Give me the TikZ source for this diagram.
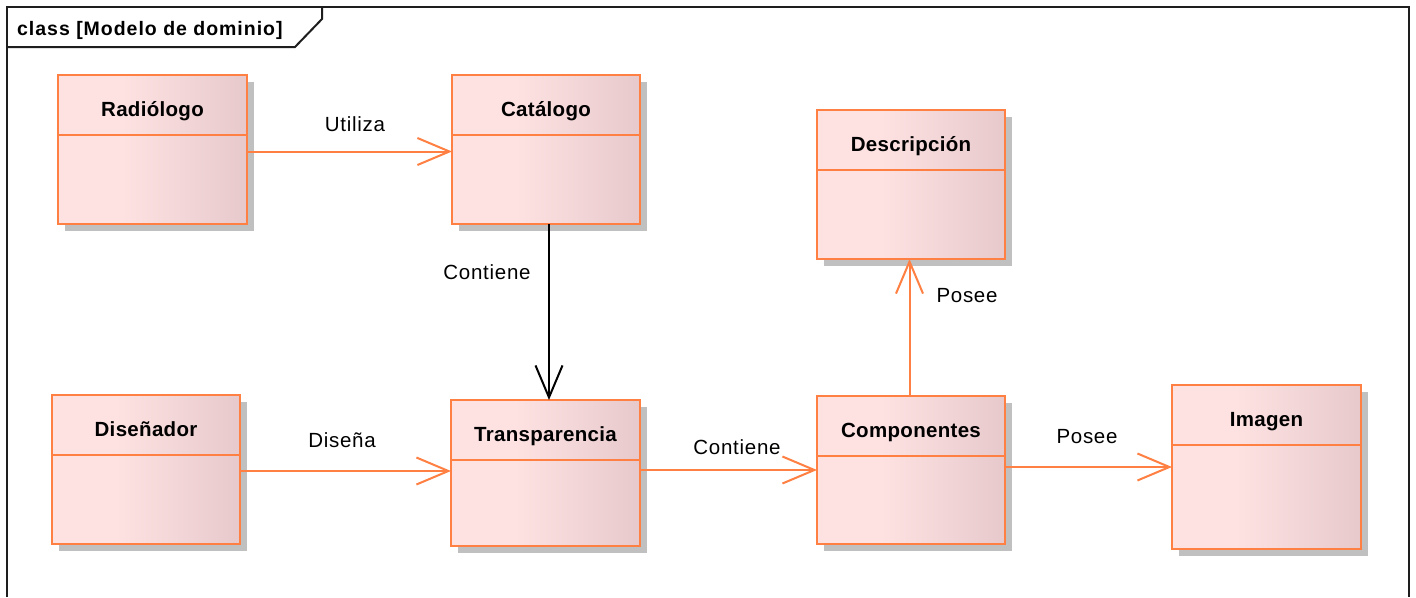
\documentclass[tikz,border=0pt]{standalone}
\usepackage{fontspec}
\setmainfont{Liberation Sans}
\usetikzlibrary{arrows.meta,shadows,calc}

\definecolor{umlorange}{RGB}{255,128,66}
\definecolor{umlpinkL}{RGB}{254,226,226}
\definecolor{umlpinkR}{RGB}{231,201,203}
\definecolor{umlshadow}{RGB}{192,192,192}
\definecolor{framegray}{RGB}{30,30,30}

% class body: flat pink on the left, darker towards the right edge
\pgfdeclarehorizontalshading{classfill}{100bp}{color(0bp)=(umlpinkL); color(42bp)=(umlpinkL); color(75bp)=(umlpinkR); color(100bp)=(umlpinkR)}

\tikzset{
  classbox/.style={anchor=north west, draw=umlorange, line width=2pt,
    shading=classfill, shade, inner sep=0pt, outer sep=0pt,
    general shadow={fill=umlshadow, shadow xshift=7pt, shadow yshift=-7pt}},
  classline/.style={draw=umlorange, line width=2pt},
  classtitle/.style={anchor=base, inner sep=0pt,
    font=\bfseries\fontsize{20.5}{24}\selectfont\addfontfeatures{LetterSpace=1.5}},
  lbl/.style={anchor=base, inner sep=0pt,
    font=\fontsize{20.5}{24}\selectfont\addfontfeatures{LetterSpace=3.5}},
  assoc/.style={draw=umlorange, line width=2pt, -{Straight Barb[length=32pt,width=27pt]}},
  assocdark/.style={draw=black, line width=2pt, -{Straight Barb[length=32pt,width=27pt]}},
  frameline/.style={draw=framegray, line width=2pt},
}

% \umlclass{name}{x}{y}{width}{height}{title}
\newcommand\umlclass[6]{%
  \node[classbox, minimum width=#4pt, minimum height=#5pt] (#1) at (#2,#3) {};
  \draw[classline] ([yshift=-60pt]#1.north west) -- ([yshift=-60pt]#1.north east);
  \node[classtitle] (#1-title) at ([yshift=-41.5pt]#1.north) {#6};
}

\begin{document}
\begin{tikzpicture}[x=1pt, y=-1pt]
  \useasboundingbox (0,0) rectangle (1416,597);
  \fill[white] (0,0) rectangle (1416,597);

  % diagram frame with its name tab
  \draw[frameline] (7,597) -- (7,7) -- (1409,7) -- (1409,597);
  \draw[frameline] (322,7) -- (322,19) -- (295,47) -- (7,47);
  \node[anchor=base west, inner sep=0pt,
    font=\bfseries\fontsize{19.5}{23}\selectfont\addfontfeatures{LetterSpace=5}]
    (frametitle) at (17,35) {class [Modelo de dominio]};

  % classes
  \umlclass{rad}{58}{75}{189}{149}{Radiólogo}
  \umlclass{cat}{452}{75}{188}{149}{Catálogo}
  \umlclass{desc}{817}{110}{188}{149}{Descripción}
  \umlclass{dis}{52}{395}{188}{149}{Diseñador}
  \umlclass{trans}{451}{400}{189}{146}{Transparencia}
  \umlclass{comp}{817}{396}{188}{148}{Componentes}
  \umlclass{img}{1172}{385}{189}{164}{Imagen}

  % associations
  \draw[assoc] ([yshift=-2pt]rad.east) -- ([yshift=-2pt]cat.west);
  \node[lbl] (l-utiliza) at (355,131) {Utiliza};

  \draw[assocdark] ([xshift=3pt]cat.south) -- ([xshift=3pt]cat.south |- trans.north);
  \node[lbl] (l-contiene1) at (487,279) {Contiene};

  \draw[assoc] ([yshift=-1.5pt]dis.east) -- ([yshift=-1.5pt]dis.east -| trans.west);
  \node[lbl] (l-disena) at (342,447) {Diseña};

  \draw[assoc] (trans.east |- comp.west) -- (comp.west);
  \node[lbl] (l-contiene2) at (737,454) {Contiene};

  \draw[assoc] ([xshift=-1.5pt]comp.north) -- ([xshift=-1.5pt]comp.north |- desc.south);
  \node[lbl] (l-posee1) at (967,302) {Posee};

  \draw[assoc] (comp.east |- img.west) -- (img.west);
  \node[lbl] (l-posee2) at (1087,443) {Posee};
\end{tikzpicture}
\end{document}
